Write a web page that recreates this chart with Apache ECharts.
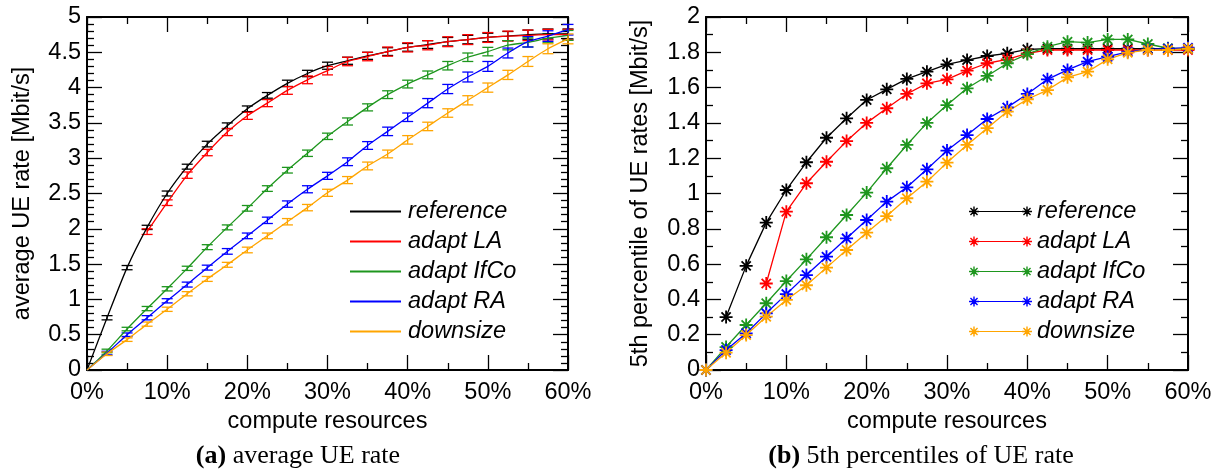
<!DOCTYPE html>
<html>
<head>
<meta charset="utf-8">
<script src="https://cdn.jsdelivr.net/npm/echarts@6/dist/echarts.min.js"></script>
<style>
html,body{margin:0;padding:0;background:#fff;}
#c{width:1219px;height:472px;}
</style>
</head>
<body>
<div id="c"></div>
<script>
// ---------- data ----------
const xs = [0, 2.5, 5, 7.5, 10, 12.5, 15, 17.5, 20, 22.5, 25, 27.5, 30, 32.5, 35, 37.5, 40, 42.5, 45, 47.5, 50, 52.5, 55, 57.5, 60];
const xTicks = ['0%', '10%', '20%', '30%', '40%', '50%', '60%'];
const names = ['reference', 'adapt LA', 'adapt IfCo', 'adapt RA', 'downsize'];
const colors = ['#000000', '#ff0000', '#1e961e', '#0000ff', '#ffa500'];

// (a) average UE rate [Mbit/s]
const avgRef  = [0, 0.74, 1.45, 2.02, 2.50, 2.88, 3.20, 3.46, 3.70, 3.89, 4.06, 4.20, 4.31, 4.38, 4.45, 4.51, 4.57, 4.61, 4.65, 4.68, 4.71, 4.73, 4.75, 4.76, 4.76];
const avgLA   = [null, null, null, 1.96, 2.37, 2.76, 3.08, 3.37, 3.60, 3.78, 3.96, 4.11, 4.24, 4.37, 4.44, 4.51, 4.57, 4.60, 4.65, 4.68, 4.71, 4.73, 4.74, 4.75, 4.75];
const avgIfCo = [0, 0.27, 0.58, 0.87, 1.15, 1.44, 1.74, 2.02, 2.29, 2.57, 2.83, 3.07, 3.31, 3.52, 3.72, 3.90, 4.05, 4.18, 4.31, 4.43, 4.51, 4.60, 4.64, 4.70, 4.74];
const avgRA   = [0, 0.24, 0.50, 0.74, 0.98, 1.21, 1.45, 1.68, 1.90, 2.12, 2.35, 2.56, 2.75, 2.95, 3.18, 3.38, 3.58, 3.78, 3.98, 4.15, 4.30, 4.49, 4.65, 4.73, 4.82];
const avgDS   = [0, 0.23, 0.43, 0.65, 0.86, 1.08, 1.29, 1.49, 1.70, 1.90, 2.10, 2.30, 2.51, 2.69, 2.89, 3.06, 3.26, 3.45, 3.64, 3.82, 4.00, 4.18, 4.37, 4.55, 4.69];

// error-bar half heights for (a)
const errRef  = [0, 0.03, 0.03, 0.03, 0.035, 0.035, 0.04, 0.04, 0.04, 0.04, 0.045, 0.045, 0.05, 0.05, 0.05, 0.055, 0.055, 0.055, 0.06, 0.06, 0.06, 0.065, 0.065, 0.07, 0.07];
const errLA   = [null, null, null, 0.04, 0.04, 0.045, 0.045, 0.05, 0.05, 0.05, 0.055, 0.055, 0.06, 0.06, 0.06, 0.065, 0.065, 0.065, 0.07, 0.07, 0.07, 0.07, 0.075, 0.075, 0.075];
const errIfCo = [0, 0.025, 0.025, 0.03, 0.03, 0.03, 0.035, 0.035, 0.04, 0.04, 0.04, 0.045, 0.045, 0.05, 0.05, 0.055, 0.055, 0.055, 0.06, 0.06, 0.06, 0.065, 0.065, 0.065, 0.07];
const errRA   = [0, 0.025, 0.025, 0.03, 0.03, 0.035, 0.035, 0.04, 0.04, 0.045, 0.045, 0.05, 0.05, 0.055, 0.055, 0.06, 0.06, 0.065, 0.065, 0.07, 0.07, 0.07, 0.075, 0.075, 0.075];
const errDS   = [0, 0.025, 0.025, 0.03, 0.03, 0.03, 0.035, 0.035, 0.04, 0.04, 0.045, 0.045, 0.05, 0.05, 0.055, 0.055, 0.06, 0.06, 0.06, 0.065, 0.065, 0.065, 0.07, 0.07, 0.07];

// (b) 5th percentile of UE rates [Mbit/s]
const p5Ref  = [null, 0.30, 0.59, 0.835, 1.02, 1.177, 1.316, 1.426, 1.53, 1.59, 1.649, 1.69, 1.732, 1.756, 1.779, 1.794, 1.817, 1.82, 1.82, 1.82, 1.82, 1.82, 1.82, 1.82, 1.82];
const p5LA   = [null, null, null, 0.49, 0.897, 1.058, 1.18, 1.297, 1.40, 1.483, 1.564, 1.624, 1.647, 1.696, 1.738, 1.76, 1.794, 1.813, 1.813, 1.813, 1.813, 1.813, 1.813, 1.813, 1.813];
const p5IfCo = [0, 0.13, 0.255, 0.378, 0.504, 0.627, 0.752, 0.878, 1.005, 1.143, 1.275, 1.40, 1.501, 1.596, 1.666, 1.738, 1.79, 1.832, 1.86, 1.855, 1.873, 1.873, 1.847, 1.823, 1.82];
const p5RA   = [0, 0.113, 0.208, 0.321, 0.43, 0.538, 0.642, 0.746, 0.85, 0.954, 1.035, 1.137, 1.243, 1.331, 1.422, 1.488, 1.564, 1.647, 1.70, 1.747, 1.775, 1.803, 1.817, 1.82, 1.826];
const p5DS   = [0, 0.098, 0.198, 0.302, 0.397, 0.48, 0.58, 0.68, 0.778, 0.872, 0.973, 1.067, 1.175, 1.275, 1.37, 1.464, 1.534, 1.586, 1.658, 1.69, 1.76, 1.798, 1.813, 1.813, 1.82];

const avgSets = [avgRef, avgLA, avgIfCo, avgRA, avgDS];
const errSets = [errRef, errLA, errIfCo, errRA, errDS];
const p5Sets  = [p5Ref, p5LA, p5IfCo, p5RA, p5DS];

// ---------- styling helpers ----------
const SANS = '"Liberation Sans", Arial, Helvetica, sans-serif';
const SERIF = '"Liberation Serif", "Times New Roman", serif';
const FS = 23.5;

function asteriskPath(cx, cy, r, t) {
  const h = t / 2, d = r * Math.SQRT1_2, o = h * Math.SQRT1_2;
  const P = (pts) => 'M' + pts.map(p => (cx + p[0]).toFixed(3) + ',' + (cy + p[1]).toFixed(3)).join('L') + 'Z';
  return P([[-r, -h], [r, -h], [r, h], [-r, h]]) +
         P([[-h, -r], [h, -r], [h, r], [-h, r]]) +
         P([[-d + o, -d - o], [d + o, d - o], [d - o, d + o], [-d - o, -d + o]]) +
         P([[-d - o, d - o], [d - o, -d - o], [d + o, -d + o], [-d + o, d + o]]);
}
const starSymbol = 'path://' + asteriskPath(10, 10, 10, 2.8);
const legendStar = 'path://' + asteriskPath(5, 5, 5, 1.4) + asteriskPath(58, 5, 5, 1.4) +
                   'M5,4.4L58,4.4L58,5.6L5,5.6Z';

function pairs(vals) { return xs.map((x, i) => [x, vals[i]]); }

function xAxisDef(grid, pos, labels) {
  return {
    type: 'value', gridIndex: grid, position: pos, min: 0, max: 60, interval: 10,
    axisLine: { show: true, onZero: false, lineStyle: { color: '#000', width: 2 } },
    axisTick: { show: true, inside: true, length: 15, lineStyle: { color: '#000', width: 1.3 } },
    minorTick: { show: true, splitNumber: 2, length: 7, lineStyle: { color: '#000', width: 1.3 } },
    splitLine: { show: false }, minorSplitLine: { show: false },
    axisLabel: labels ? { show: true, formatter: (v) => xTicks[Math.round(v / 10)], fontSize: FS, fontFamily: SANS, color: '#000', margin: 11 } : { show: false },
    name: labels ? 'compute resources' : '', nameLocation: 'middle', nameGap: 22,
    nameTextStyle: { fontSize: FS, fontFamily: SANS, color: '#000' }
  };
}
function yAxisDef(grid, pos, max, interval, minorSplit, name, nameGap) {
  return {
    type: 'value', gridIndex: grid, position: pos, min: 0, max: max, interval: interval,
    axisLine: { show: true, onZero: false, lineStyle: { color: '#000', width: 2 } },
    axisTick: { show: true, inside: true, length: 15, lineStyle: { color: '#000', width: 1.3 } },
    minorTick: { show: true, splitNumber: minorSplit, length: 7, lineStyle: { color: '#000', width: 1.3 } },
    splitLine: { show: false }, minorSplitLine: { show: false },
    axisLabel: name ? { show: true, fontSize: FS, fontFamily: SANS, color: '#000', margin: 6 } : { show: false },
    name: name || '', nameLocation: 'middle', nameGap: nameGap || 0,
    nameTextStyle: { fontSize: FS, fontFamily: SANS, color: '#000' }
  };
}

function errRender(color) {
  return function (params, api) {
    const x = api.value(0), lo = api.value(1), hi = api.value(2);
    const a = api.coord([x, lo]), b = api.coord([x, hi]);
    const hw = 5.5;
    const st = { stroke: color, lineWidth: 1.3 };
    return { type: 'group', children: [
      { type: 'line', shape: { x1: a[0], y1: a[1], x2: b[0], y2: b[1] }, style: st },
      { type: 'line', shape: { x1: a[0] - hw, y1: a[1], x2: a[0] + hw, y2: a[1] }, style: st },
      { type: 'line', shape: { x1: b[0] - hw, y1: b[1], x2: b[0] + hw, y2: b[1] }, style: st }
    ] };
  };
}

const series = [];
names.forEach((n, k) => {
  series.push({
    name: n, type: 'line', xAxisIndex: 0, yAxisIndex: 0,
    data: pairs(avgSets[k]), showSymbol: false, symbol: 'none', smooth: 0.25,
    connectNulls: false, color: colors[k],
    lineStyle: { color: colors[k], width: 1.3 }, emphasis: { disabled: true }, silent: true
  });
  const ed = xs.map((x, i) => {
    const v = avgSets[k][i], e = errSets[k][i];
    return (v == null || v === 0 || e == null) ? null : [x, v - e, v + e];
  }).filter(Boolean);
  series.push({
    type: 'custom', xAxisIndex: 0, yAxisIndex: 0, data: ed,
    encode: { x: 0, y: [1, 2] }, renderItem: errRender(colors[k]), silent: true
  });
});
names.forEach((n, k) => {
  series.push({
    name: n + ' ', type: 'line', xAxisIndex: 2, yAxisIndex: 2,
    data: pairs(p5Sets[k]), showSymbol: true, symbol: starSymbol, symbolSize: 13,
    connectNulls: false, color: colors[k],
    itemStyle: { color: colors[k], borderWidth: 0 },
    lineStyle: { color: colors[k], width: 1.3 }, emphasis: { disabled: true }, silent: true
  });
});

const option = {
  backgroundColor: '#ffffff',
  animation: false,
  grid: [
    { left: 87, right: 651, top: 17, bottom: 102, containLabel: false },
    { left: 706, right: 31, top: 17, bottom: 102, containLabel: false }
  ],
  xAxis: [
    xAxisDef(0, 'bottom', true), xAxisDef(0, 'top', false),
    xAxisDef(1, 'bottom', true), xAxisDef(1, 'top', false)
  ],
  yAxis: [
    yAxisDef(0, 'left', 5, 0.5, 5, 'average UE rate [Mbit/s]', 52),
    yAxisDef(0, 'right', 5, 0.5, 5, null),
    yAxisDef(1, 'left', 2, 0.2, 2, '5th percentile of UE rates [Mbit/s]', 53),
    yAxisDef(1, 'right', 2, 0.2, 2, null)
  ],
  legend: [
    {
      orient: 'vertical', left: 345, top: 195, itemGap: 7, itemWidth: 51, itemHeight: 2,
      selectedMode: false, icon: 'rect',
      itemStyle: { borderWidth: 0 },
      data: names.map(n => ({ name: n, icon: 'rect' })),
      textStyle: { fontSize: FS, fontFamily: SANS, fontStyle: 'italic', color: '#000', padding: [0, 0, 0, 2] }
    },
    {
      orient: 'vertical', left: 964, top: 195, itemGap: 7, itemWidth: 63, itemHeight: 10,
      selectedMode: false,
      itemStyle: { borderWidth: 0 },
      data: names.map(n => ({ name: n + ' ', icon: legendStar })),
      formatter: (n) => n.trim(),
      textStyle: { fontSize: FS, fontFamily: SANS, fontStyle: 'italic', color: '#000' }
    }
  ],
  graphic: [
    { type: 'text', x: 298, y: 456, silent: true,
      style: { text: '{b|(a)} average UE rate', fill: '#000', fontFamily: SERIF, fontSize: 26,
               align: 'center', verticalAlign: 'middle',
               rich: { b: { fontWeight: 'bold', fontFamily: SERIF, fontSize: 26, fill: '#000' } } } },
    { type: 'text', x: 921, y: 456, silent: true,
      style: { text: '{b|(b)} 5th percentiles of UE rate', fill: '#000', fontFamily: SERIF, fontSize: 26,
               align: 'center', verticalAlign: 'middle',
               rich: { b: { fontWeight: 'bold', fontFamily: SERIF, fontSize: 26, fill: '#000' } } } }
  ],
  series: series
};

const chart = echarts.init(document.getElementById('c'), null, { renderer: 'canvas' });
chart.setOption(option);
</script>
</body>
</html>
